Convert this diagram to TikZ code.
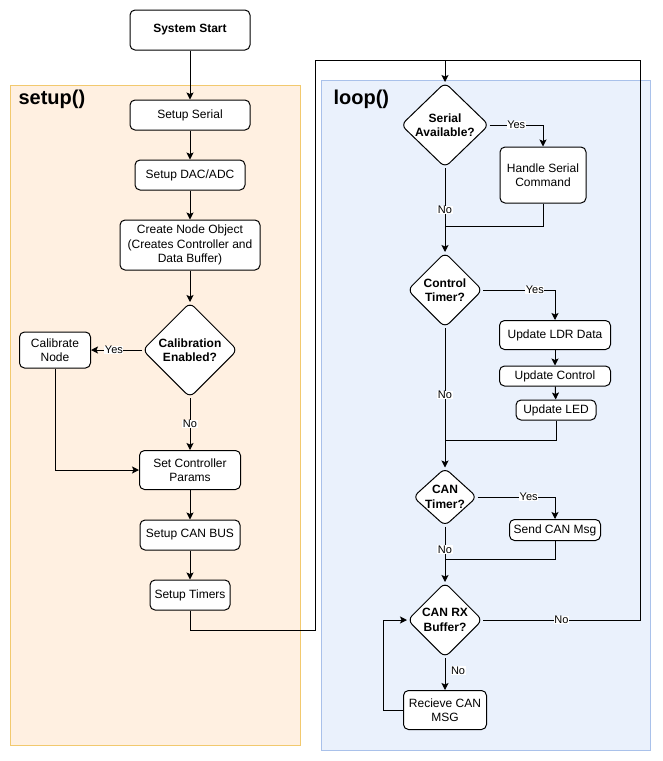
\documentclass[tikz,border=0pt]{standalone}
\usepackage{fontspec}
\setmainfont{Liberation Sans}
\usetikzlibrary{shapes.geometric,arrows.meta}

\definecolor{setupfill}{HTML}{FFF0E1}
\definecolor{setupline}{HTML}{F2C96E}
\definecolor{loopfill}{HTML}{EAF1FC}
\definecolor{loopline}{HTML}{A9C1EA}

\tikzstyle{box}=[draw=black,line width=1pt,fill=white,rounded corners=5pt,align=center,inner sep=1pt,font=\fontsize{12}{14.5}\selectfont]
\tikzstyle{decision}=[draw=black,line width=1pt,fill=white,shape=diamond,rounded corners=6pt,inner sep=0pt]
\tikzstyle{dtext}=[align=center,inner sep=0pt,font=\fontsize{12}{14.5}\selectfont\bfseries]
\tikzstyle{lbl}=[fill=white,inner sep=0.5pt,font=\fontsize{11}{13}\selectfont]
\tikzstyle{arr}=[line width=1pt,-{Stealth[length=7pt,width=7pt,inset=1.5pt]}]
\tikzstyle{wire}=[line width=1pt]

\begin{document}
\begin{tikzpicture}[x=1pt,y=-1pt]
        \useasboundingbox (0,0) rectangle (662,761);
        %% The two containers
        \draw[setupline,fill=setupfill,line width=1pt](10,85) rectangle (300,745);
        \draw[loopline,fill=loopfill,line width=1pt](321,80) rectangle (650,750);
        \node[anchor=west,font=\fontsize{20}{24}\selectfont\bfseries] (setuptitle) at (15,99) {setup()};
        \node[anchor=west,font=\fontsize{20}{24}\selectfont\bfseries] (looptitle) at (330,99) {loop()};

        %% setup() column
        \node[box,minimum width=120pt,minimum height=40pt,font=\fontsize{12}{14.5}\selectfont\bfseries] (start) at (190,30) {System Start};
        \node[box,minimum width=120pt,minimum height=30pt] (serialsetup) at (190,115) {Setup Serial};
        \node[box,minimum width=110pt,minimum height=30pt] (dac) at (190,175) {Setup DAC/ADC};
        \node[box,minimum width=140pt,minimum height=50pt] (nodeobj) at (190,245) {Create Node Object\\(Creates Controller and\\Data Buffer)};
        \node[decision,minimum width=95pt,minimum height=95pt,label={[dtext]center:Calibration\\Enabled?}] (cal) at (190,350) {};
        \node[box,minimum width=71pt,minimum height=36pt] (calnode) at (55,350) {Calibrate\\Node};
        \node[box,minimum width=101pt,minimum height=39pt] (ctrl) at (190,470) {Set Controller\\Params};
        \node[box,minimum width=100pt,minimum height=30pt] (canbus) at (190,535) {Setup CAN BUS};
        \node[box,minimum width=80pt,minimum height=30pt] (timers) at (190,595) {Setup Timers};

        %% loop() column
        \node[decision,minimum width=88pt,minimum height=85pt,label={[dtext]center:Serial\\Available?}] (serial) at (445,125) {};
        \node[box,minimum width=86pt,minimum height=56pt] (hsc) at (543,175) {Handle Serial\\Command};
        \node[decision,minimum width=75pt,minimum height=75pt,label={[dtext]center:Control\\Timer?}] (ctimer) at (445,290) {};
        \node[box,minimum width=111pt,minimum height=29pt] (ldr) at (555,335) {Update LDR Data};
        \node[box,minimum width=111pt,minimum height=20pt] (uctrl) at (555,376) {Update Control};
        \node[box,minimum width=80pt,minimum height=20pt] (led) at (556,410) {Update LED};
        \node[decision,minimum width=64pt,minimum height=58pt,label={[dtext]center:CAN\\Timer?}] (cantimer) at (445,497) {};
        \node[box,minimum width=91pt,minimum height=21pt] (sendcan) at (555,530) {Send CAN Msg};
        \node[decision,minimum width=75pt,minimum height=75pt,label={[dtext]center:CAN RX\\Buffer?}] (canrx) at (445,620) {};
        \node[box,minimum width=83pt,minimum height=39pt] (recv) at (445,710) {Recieve CAN\\MSG};

        %% setup connections
        \draw[arr](start)--(serialsetup);
        \draw[arr](serialsetup)--(dac);
        \draw[arr](dac)--(nodeobj);
        \draw[arr](nodeobj)--(cal);
        \draw[arr](cal.west)--(calnode.east) node[lbl,pos=0.55]{Yes};
        \draw[arr](cal.south)--(ctrl.north) node[lbl,pos=0.5]{No};
        \draw[arr](calnode.south)|-(ctrl.west);
        \draw[arr](ctrl)--(canbus);
        \draw[arr](canbus)--(timers);
        %%% into the loop
        \draw[arr](timers.south)--++(0,20)-|(315,60)-|(serial.north);

        %% loop connections
        \draw[arr](serial.east)-|(hsc.north) node[lbl,pos=0.25]{Yes};
        \draw[arr](serial.south)--(ctimer.north) node[lbl,pos=0.5]{No};
        \draw[wire](hsc.south)|-(445,226);
        \draw[arr](ctimer.east)-|(ldr.north) node[lbl,pos=0.36]{Yes};
        \draw[arr](ldr)--(uctrl);
        \draw[arr](uctrl)--(led);
        \draw[arr](ctimer.south)--(cantimer.north) node[lbl,pos=0.48]{No};
        \draw[wire](led.south)|-(445,440);
        \draw[arr](cantimer.east)-|(sendcan.north) node[lbl,pos=0.33]{Yes};
        \draw[arr](cantimer.south)--(canrx.north) node[lbl,pos=0.42]{No};
        \draw[wire](sendcan.south)|-(445,559);
        %%% back to the top
        \draw[wire](canrx.east)-|(640,60) node[lbl,pos=0.25]{No} --(445,60);
        \draw[arr](canrx.south)--(recv.north) node[lbl,pos=0.4,right=5pt]{No};
        \draw[arr](recv.west)--++(-20,0)|-(canrx.west);
    \end{tikzpicture}
\end{document}
